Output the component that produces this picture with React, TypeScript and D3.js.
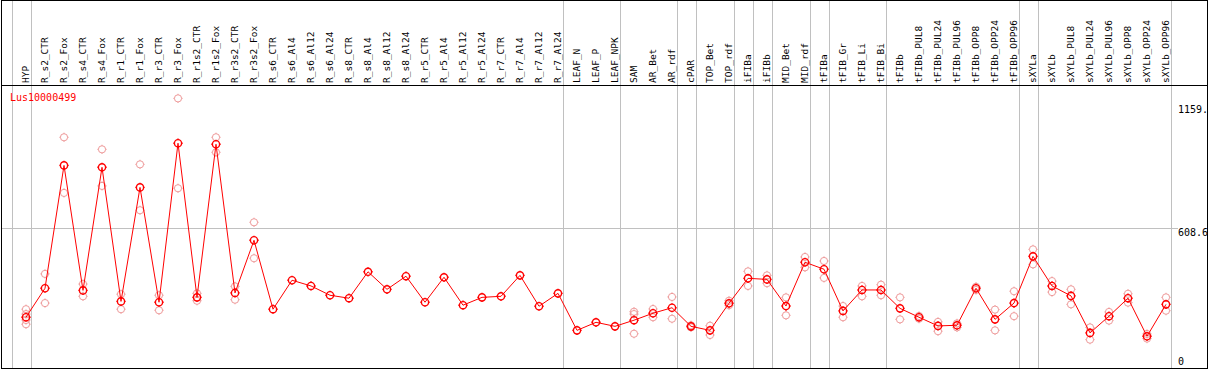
import React from 'react'
import * as d3 from 'd3'

const categories = [
  'HYP', 'R_s2_CTR', 'R_s2_Fox', 'R_s4_CTR', 'R_s4_Fox', 'R_r1_CTR', 'R_r1_Fox', 'R_r3_CTR', 'R_r3_Fox',
  'R_r1s2_CTR', 'R_r1s2_Fox', 'R_r3s2_CTR', 'R_r3s2_Fox', 'R_s6_CTR', 'R_s6_Al4', 'R_s6_Al12', 'R_s6_Al24',
  'R_s8_CTR', 'R_s8_Al4', 'R_s8_Al12', 'R_s8_Al24', 'R_r5_CTR', 'R_r5_Al4', 'R_r5_Al12', 'R_r5_Al24',
  'R_r7_CTR', 'R_r7_Al4', 'R_r7_Al12', 'R_r7_Al24', 'LEAF_N', 'LEAF_P', 'LEAF_NPK', 'SAM', 'AR_Bet', 'AR_rdf',
  'cPAR', 'TOP_Bet', 'TOP_rdf', 'iFIBa', 'iFIBb', 'MID_Bet', 'MID_rdf', 'tFIBa', 'tFIB_Gr', 'tFIB_Li', 'tFIB_Bi',
  'tFIBb', 'tFIBb_PUL8', 'tFIBb_PUL24', 'tFIBb_PUL96', 'tFIBb_OPP8', 'tFIBb_OPP24', 'tFIBb_OPP96',
  'sXYLa', 'sXYLb', 'sXYLb_PUL8', 'sXYLb_PUL24', 'sXYLb_PUL96', 'sXYLb_OPP8', 'sXYLb_OPP24', 'sXYLb_OPP96',
]

// mean expression per sample
const means = [
  188, 325, 906, 315, 897, 263, 802, 259, 1011,
  282, 1006, 303, 552, 226, 363, 336, 292,
  278, 403, 320, 382, 259, 377, 245, 282,
  287, 386, 240, 301, 126, 164, 145, 174, 207, 233,
  145, 126, 254, 372, 367, 241, 448, 415, 218, 317, 317,
  230, 188, 147, 150, 325, 178, 255,
  476, 336, 289, 114, 193, 278, 98, 249,
]

// individual replicates (empty where only one value)
const replicates = [
  [226, 203, 175, 155], [393, 255], [1039, 776], [345, 287], [982, 809], [297, 226], [911, 694], [292, 221], [1223, 798],
  [301, 266], [1039, 968], [334, 271], [637, 467], [], [], [], [],
  [], [], [], [], [], [], [], [],
  [], [], [], [], [], [], [], [214, 203, 110], [227, 188], [284, 181],
  [150, 140], [148, 104], [266, 245], [405, 336], [386, 349], [282, 197], [473, 424], [454, 374], [241, 188], [336, 287], [342, 292],
  [282, 178], [194, 181], [166, 122], [159, 140], [332, 317], [224, 126], [311, 193],
  [509, 438], [359, 307], [320, 249], [140, 82], [213, 172], [299, 257], [109, 87], [282, 219],
]

// group dividers sit after these samples
const dividersAfter = [
  'HYP', 'R_r7_Al24', 'LEAF_NPK', 'AR_rdf', 'cPAR', 'TOP_rdf', 'iFIBa', 'iFIBb',
  'MID_rdf', 'tFIBa', 'tFIB_Bi', 'tFIBb_OPP96', 'sXYLa', 'sXYLb_OPP96',
]

const yTickValues = [0, 608.6, 1159]
const yTickLabels = ['0', '608.6', '1159.']
const geneName = 'Lus10000499'

const WIDTH = 1209
const HEIGHT = 370
const HEADER = 85.5
const MONO = '"DejaVu Sans Mono", monospace'

const Marker = ({ cx, cy, color, sw }: { cx: number, cy: number, color: string, sw: number }) => (
  <g stroke={color} strokeWidth={sw} fill="none">
    <circle cx={cx} cy={cy} r={3.6} />
    <line x1={cx} x2={cx} y1={cy - 4.6} y2={cy - 3.6} />
    <line x1={cx} x2={cx} y1={cy + 3.6} y2={cy + 4.6} />
    <line x1={cx - 4.6} x2={cx - 3.6} y1={cy} y2={cy} />
    <line x1={cx + 3.6} x2={cx + 4.6} y1={cy} y2={cy} />
  </g>
)

const App = () => {
  const xScale = d3.scalePoint<string>().domain(categories).range([26, 1166])
  const yScale = d3.scaleLinear().domain([0, 608.6]).range([357, 228.3])

  const line = d3.line<number>()
    .x((d, i) => xScale(categories[i]) as number)
    .y(d => yScale(d))

  const step = xScale.step()
  const divX = [xScale(categories[0])! - step + 4.5, ...dividersAfter.map(c => xScale(c)! + 4.5)]

  return (
    <svg width={WIDTH} height={HEIGHT} style={{ position: 'absolute', left: 0, top: 0, background: '#fff' }}>
      <rect x={0} y={0} width={WIDTH} height={HEIGHT} fill="#fff" />

      {divX.map((x, i) => (
        <line key={'v' + i} x1={Math.round(x) + 0.5} x2={Math.round(x) + 0.5} y1={1} y2={368} stroke="#c0c0c0" strokeWidth={1} />
      ))}
      <line x1={1} x2={1178} y1={Math.round(yScale(608.6)) + 0.5} y2={Math.round(yScale(608.6)) + 0.5} stroke="#c0c0c0" strokeWidth={1} />

      <line x1={1} x2={1208} y1={HEADER} y2={HEADER} stroke="#000" strokeWidth={1} />
      <rect x={1.5} y={0.5} width={1206} height={368} fill="none" stroke="#000" strokeWidth={1} />

      {categories.map(c => {
        const x = (xScale(c) as number) + 2.7
        return (
          <text key={c} transform={`translate(${x},83) rotate(-90)`} fontFamily={MONO} fontSize={9.5} fill="#000">
            {c}
          </text>
        )
      })}

      {yTickValues.map((v, i) => {
        const y = i === yTickValues.length - 1 ? 113 : yScale(v) + 8
        return (
          <text key={'t' + i} x={1178} y={y} fontFamily={MONO} fontSize={10} fill="#000">{yTickLabels[i]}</text>
        )
      })}

      <text x={10} y={101} fontFamily={MONO} fontSize={10} fill="#ff0000">{geneName}</text>

      {replicates.map((reps, i) => reps.map((v, j) => (
        <Marker key={`r${i}-${j}`} cx={xScale(categories[i]) as number} cy={yScale(v)} color="#ee9a9a" sw={1} />
      )))}

      <path d={line(means) || ''} fill="none" stroke="#ff0000" strokeWidth={1} />

      {means.map((v, i) => (
        <Marker key={'m' + i} cx={xScale(categories[i]) as number} cy={yScale(v)} color="#ff0000" sw={1.4} />
      ))}
    </svg>
  )
}

export default App
